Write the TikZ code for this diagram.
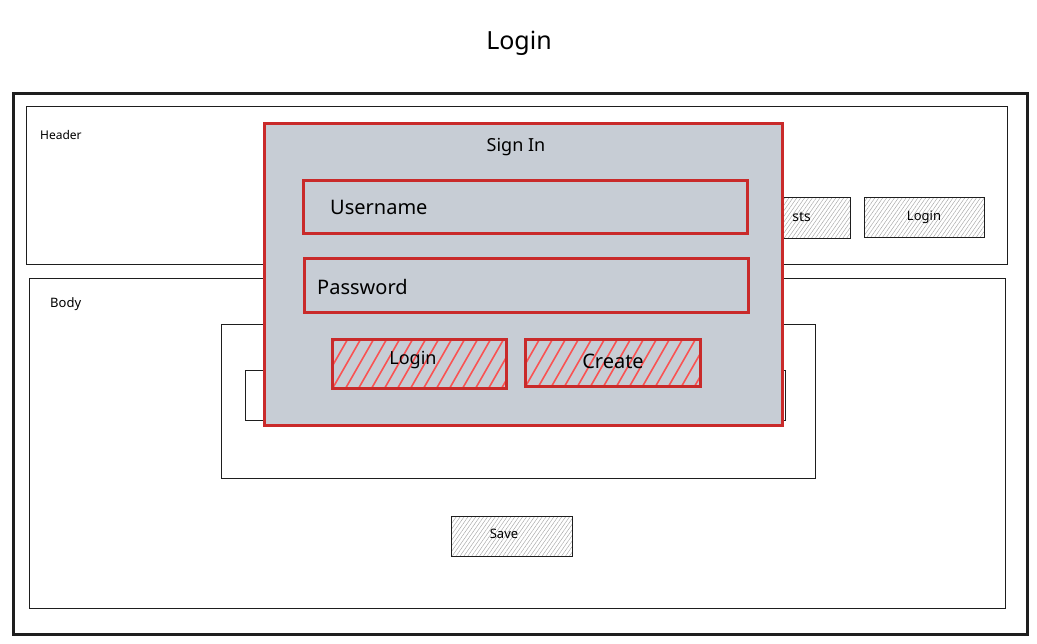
\documentclass[tikz,border=0pt]{standalone}
\usepackage{fontspec}
\setmainfont{Noto Sans}
\usetikzlibrary{patterns.meta}
\definecolor{dlgfill}{HTML}{C7CDD5}
\definecolor{dlgred}{HTML}{C92A2A}
\definecolor{hatchred}{HTML}{FA5252}
\definecolor{ink}{HTML}{1E1E1E}
\tikzset{
  box/.style={draw=ink, line width=0.9pt, anchor=north west, inner sep=0pt},
  frame/.style={draw=ink, line width=3.4pt, anchor=north west, inner sep=0pt},
  graybtn/.style={draw=ink, line width=1.2pt, anchor=north west, inner sep=0pt,
    pattern={Lines[angle=55,distance=3.2pt,line width=0.45pt]}, pattern color=black!35},
  dialog/.style={draw=dlgred, fill=dlgfill, line width=3.2pt, anchor=north west, inner sep=0pt},
  field/.style={draw=dlgred, line width=3pt, anchor=north west, inner sep=0pt},
  redbtn/.style={draw=dlgred, line width=3pt, anchor=north west, inner sep=0pt,
    path picture={\foreach \i in {-4,...,15}
      \draw[hatchred, line width=1.6pt]
        ([xshift=\i*13pt]path picture bounding box.south west) -- ++(32,-56);}},
  lbl/.style={text=black, inner sep=0pt},
}
\begin{document}
\begin{tikzpicture}[x=1pt,y=-1pt]
\useasboundingbox[fill=white] (0,0) rectangle (1037,644);
% title
\node[lbl, font=\fontsize{25}{28}\selectfont] (title) at (519,43) {Login};
% outer frame
\node[frame, minimum width=1014pt, minimum height=541pt] (page) at (12,92) {};
% header
\node[box, minimum width=981pt, minimum height=158pt] (hdr) at (26,106) {};
\node[lbl, anchor=west, font=\fontsize{12}{14}\selectfont] (hdrlbl) at (40,135) {Header};
\node[graybtn, minimum width=150pt, minimum height=41pt] (postsbtn) at (700,197) {};
\node[lbl, anchor=east, font=\fontsize{14}{16}\selectfont] (poststxt) at (811,217) {sts};
\node[graybtn, minimum width=120pt, minimum height=40pt] (hlogin) at (864,197) {};
\node[lbl, font=\fontsize{13}{16}\selectfont] (hlogintxt) at (924,217) {Login};
% body
\node[box, minimum width=976pt, minimum height=330pt] (body) at (29,278) {};
\node[lbl, anchor=west, font=\fontsize{13}{16}\selectfont] (bodylbl) at (50,304) {Body};
\node[box, minimum width=594pt, minimum height=154pt] (inner) at (221,324) {};
\node[box, minimum width=540pt, minimum height=50pt] (innerrow) at (245,370) {};
\node[graybtn, minimum width=121pt, minimum height=40pt] (save) at (451,516) {};
\node[lbl, font=\fontsize{13}{16}\selectfont] (savetxt) at (504,534) {Save};
% sign-in dialog
\node[dialog, minimum width=518pt, minimum height=302pt] (dlg) at (263,122) {};
\node[lbl, font=\fontsize{18}{22}\selectfont] (signin) at (516,147) {Sign In};
\node[field, minimum width=444pt, minimum height=53pt] (user) at (302,179) {};
\node[lbl, anchor=west, font=\fontsize{20}{24}\selectfont] (usertxt) at (330,207) {Username};
\node[field, minimum width=444pt, minimum height=54pt] (pass) at (303,257) {};
\node[lbl, anchor=west, font=\fontsize{20}{24}\selectfont] (passtxt) at (317,287) {Password};
\node[redbtn, minimum width=174pt, minimum height=49pt] (dlogin) at (331,338) {};
\node[lbl, font=\fontsize{18}{22}\selectfont] (dlogintxt) at (413,360) {Login};
\node[redbtn, minimum width=175pt, minimum height=47pt] (create) at (524,338) {};
\node[lbl, font=\fontsize{20}{24}\selectfont] (createtxt) at (613,361) {Create};
\end{tikzpicture}
\end{document}
